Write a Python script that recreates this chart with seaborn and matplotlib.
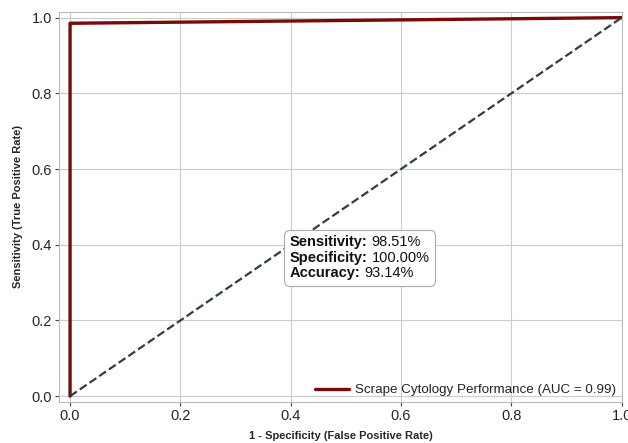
import matplotlib
matplotlib.use("Agg")
import matplotlib.pyplot as plt
import seaborn as sns
import pandas as pd
from matplotlib.offsetbox import TextArea, HPacker, VPacker, AnnotationBbox

# ROC points
fpr = [0.0, 0.0, 1.0]
tpr = [0.0, 0.9851, 1.0]
chance = [0.0, 1.0]
auc_val = 0.99

stat_names = ["Sensitivity:", "Specificity:", "Accuracy:"]
stat_values = ["98.51%", "100.00%", "93.14%"]

sns.set_style("whitegrid")
plt.rcParams['font.family'] = ['Liberation Sans', 'DejaVu Sans']

fig, ax = plt.subplots(figsize=(6.28, 4.43), dpi=100)
fig.subplots_adjust(left=0.094, right=0.99, top=0.973, bottom=0.093)

roc = pd.DataFrame({"fpr": fpr, "tpr": tpr})
sns.lineplot(data=roc, x="fpr", y="tpr", ax=ax, color="#7a0a0a", lw=2.4,
             sort=False, estimator=None,
             label=f"Scrape Cytology Performance (AUC = {auc_val:.2f})")
ax.plot(chance, chance, ls="--", color="#2f3f3f", lw=1.6)

ax.set_xlim(-0.02, 1.0)
ax.set_ylim(-0.015, 1.015)
ax.set_xlabel("1 - Specificity (False Positive Rate)", fontsize=8, fontweight="bold", labelpad=6)
ax.set_ylabel("Sensitivity (True Positive Rate)", fontsize=8, fontweight="bold", labelpad=6)
ax.tick_params(axis="both", labelsize=10.5, length=3, width=0.8, color="#444444", direction="out",
               bottom=True, left=True, pad=2)
for s in ax.spines.values():
    s.set_color("#bbbbbb")
    s.set_linewidth(0.8)
ax.grid(color="#cccccc", lw=0.8)

leg = ax.legend(loc="lower right", fontsize=9.6, frameon=False, handlelength=2.5,
                handletextpad=0.5, borderaxespad=0.1, borderpad=0.3)
for t in leg.get_texts():
    t.set_color("#222222")

rows = []
for n, v in zip(stat_names, stat_values):
    rows.append(HPacker(children=[
        TextArea(n, textprops=dict(fontsize=10.5, fontweight="bold", color="#111111")),
        TextArea(v, textprops=dict(fontsize=10.5, color="#111111"))], sep=3, pad=0))
box = VPacker(children=rows, sep=1, pad=0)
ab = AnnotationBbox(box, (0.398, 0.425), xycoords="data", box_alignment=(0, 1),
                    frameon=True, pad=0.4,
                    bboxprops=dict(boxstyle="round,pad=0.4", fc="white", ec="#aaaaaa", lw=0.8))
ax.add_artist(ab)

fig.savefig("out.png", dpi=100)
